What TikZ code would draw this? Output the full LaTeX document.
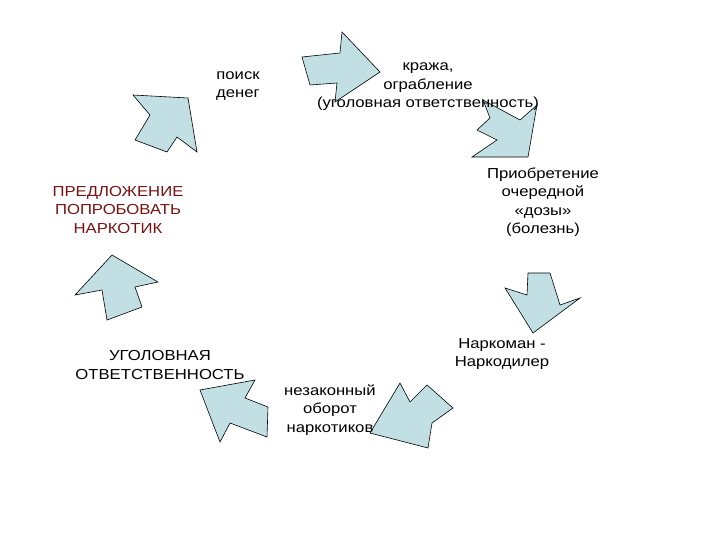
\documentclass[tikz,border=0pt]{standalone}
\usepackage{fontspec}
\setmainfont[FakeStretch=1.15]{Liberation Sans}
\definecolor{arr}{HTML}{C2E0E4}
\definecolor{dred}{HTML}{7A1010}
\begin{document}
\begin{tikzpicture}[x=1pt,y=-1pt,
  arrow/.style={fill=arr,draw=black,line width=0.6pt,line join=miter},
  lbl/.style={align=center,font=\fontsize{14.5}{18.5}\selectfont,inner sep=0pt}]
\useasboundingbox (0,0) rectangle (720,540);
% arrows
\draw[arrow] (302,57)--(340,53)--(342,32)--(380,72)--(335,102)--(337,83)--(310,85)--cycle;
\draw[arrow] (483,100)--(520,120)--(537,105)--(528,157)--(472,157)--(497,140)--(477,130)--(490,118)--cycle;
\draw[arrow] (528,273)--(550,273)--(560,305)--(580,298)--(533,333)--(505,288)--(527,295)--cycle;
\draw[arrow] (400,383)--(410,402)--(427,385)--(453,408)--(432,423)--(428,448)--(370,433)--cycle;
\draw[arrow] (200,390)--(255,380)--(245,398)--(268,407)--(267,437)--(230,423)--(220,442)--cycle;
\draw[arrow] (112,255)--(158,282)--(135,287)--(142,307)--(107,320)--(102,290)--(75,295)--cycle;
\draw[arrow] (133,95)--(188,98)--(197,152)--(177,137)--(167,152)--(135,140)--(150,115)--cycle;
% labels
\node[lbl] (poisk) at (238,86) {поиск\\денег};
\node[lbl] (kraja) at (428,87) {кража,\\ограбление\\(уголовная ответственность)};
\node[lbl] (priob) at (543,202) {Приобретение\\очередной\\«дозы»\\(болезнь)};
\node[lbl,text=dred] (pred) at (118,210) {ПРЕДЛОЖЕНИЕ\\ПОПРОБОВАТЬ\\НАРКОТИК};
\node[lbl] (ugol) at (160,365) {УГОЛОВНАЯ\\ОТВЕТСТВЕННОСТЬ};
\node[lbl] (nark) at (502,354) {Наркоман -\\Наркодилер};
\node[lbl] (nez) at (330,410) {незаконный\\оборот\\наркотиков};
\end{tikzpicture}
\end{document}
